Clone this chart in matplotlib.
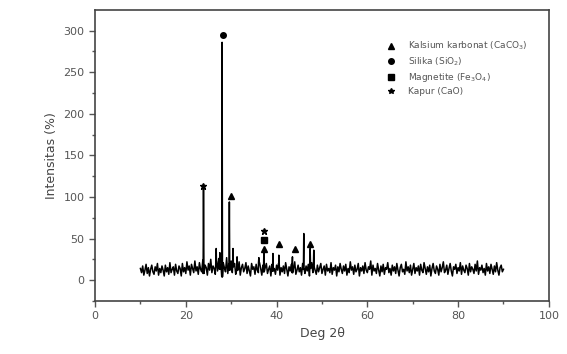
import numpy as np
import matplotlib.pyplot as plt
from matplotlib.lines import Line2D

# baseline intensitas, tiap 0.25 derajat dari 10 sampai 90
latar = [
    14, 9, 17, 6, 12, 19, 8, 15, 5, 13, 18, 10, 7, 16, 11, 20, 6, 14, 9, 17,
    12, 5, 18, 10, 15, 7, 21, 9, 13, 16, 6, 19, 11, 8, 17, 14, 5, 20, 10, 15,
    8, 22, 12, 17, 6, 19, 14, 9, 23, 11, 16, 7, 21, 13, 10, 24, 8, 18, 15, 6,
    20, 12, 25, 9, 17, 14, 7, 22, 11, 26, 13, 18, 4, 21, 15, 10, 27, 8, 19, 12,
    23, 9, 16, 20, 7, 18, 12, 22, 6, 15, 19, 10, 14, 21, 8, 17, 11, 5, 20, 13,
    16, 7, 19, 12, 9, 21, 14, 6, 18, 10, 15, 20, 8, 13, 17, 5, 19, 11, 14, 7,
    18, 12, 20, 6, 15, 10, 17, 8, 21, 13, 5, 16, 11, 19, 9, 14, 22, 7, 12, 18,
    10, 15, 6, 20, 13, 8, 17, 11, 19, 5, 14, 21, 9, 16, 12, 7, 18, 10, 15, 20,
    8, 13, 17, 6, 19, 11, 14, 9, 21, 7, 15, 12, 18, 5, 16, 10, 20, 13, 8, 17,
    11, 19, 6, 14, 9, 22, 12, 16, 7, 18, 10, 13, 20, 5, 15, 11, 17, 8, 21, 12,
    9, 16, 13, 23, 6, 18, 11, 14, 8, 20, 12, 5, 17, 10, 19, 7, 15, 13, 21, 9,
    14, 6, 18, 11, 16, 8, 20, 12, 5, 15, 19, 10, 13, 7, 22, 11, 16, 9, 18, 6,
    13, 20, 8, 15, 11, 17, 6, 19, 12, 9, 21, 14, 7, 16, 10, 18, 5, 14, 20, 11,
    8, 17, 13, 6, 19, 10, 15, 22, 9, 12, 18, 7, 14, 20, 11, 5, 16, 13, 19, 8,
    15, 11, 21, 7, 17, 12, 9, 18, 14, 6, 20, 10, 16, 13, 8, 19, 11, 23, 7, 15,
    12, 18, 9, 14, 6, 20, 11, 16, 8, 19, 13, 7, 17, 10, 21, 12, 6, 15, 18, 10,
    13,
]
sudut_latar = np.linspace(10, 90, len(latar))

# puncak
pos_puncak = [23.9, 26.7, 27.5, 28.0, 29.6, 30.4, 31.3, 36.1, 37.2, 39.2, 40.5, 43.5, 46.0, 47.4, 48.2]
tinggi_puncak = [110, 38, 33, 286, 94, 38, 28, 27, 34, 32, 30, 28, 56, 38, 36]

# penanda fasa
kalsit_x = [29.9, 37.2, 40.6, 44.1, 47.4]
kalsit_y = [101, 37, 43, 37, 43]
silika_x = [28.1]
silika_y = [295]
magnetit_x = [37.2]
magnetit_y = [48]
kapur_x = [23.8, 37.2]
kapur_y = [113, 59]

# gabung baseline dengan puncak
x = list(sudut_latar)
y = list(latar)
for p, h in zip(pos_puncak, tinggi_puncak):
    i = int(np.searchsorted(sudut_latar, p))
    b = latar[min(i, len(latar) - 1)]
    x += [p - 0.08, p, p + 0.08]
    y += [b, h, b]
urut = np.argsort(x)
x = np.array(x)[urut]
y = np.array(y)[urut]

abu = '#555555'
fig = plt.figure(figsize=(5.67, 3.54), dpi=100)
ax = fig.add_axes([0.1676, 0.150, 0.8004, 0.822])
ax.plot(x, y, color='black', lw=1.1)

ax.plot(kalsit_x, kalsit_y, '^', color='black', ms=4)
ax.plot(silika_x, silika_y, 'o', color='black', ms=4)
ax.plot(magnetit_x, magnetit_y, 's', color='black', ms=4)
ax.plot(kapur_x, kapur_y, '*', color='black', ms=5)

ax.set_xlim(0, 100)
ax.set_ylim(-25, 325)
ax.set_xticks([0, 20, 40, 60, 80, 100])
ax.set_xticks(range(10, 100, 20), minor=True)
ax.set_yticks([0, 50, 100, 150, 200, 250, 300])
ax.set_yticks(range(-25, 325, 50), minor=True)
ax.tick_params(direction='out', length=4, width=1, colors=abu, labelsize=8, top=False, right=False)
ax.tick_params(which='minor', direction='out', length=2, width=1, colors=abu)
for s in ax.spines.values():
    s.set_color('#444444')
    s.set_linewidth(1.2)

ax.set_xlabel('Deg 2θ', fontsize=9, color='#444444')
ax.set_ylabel('Intensitas (%)', fontsize=9, color='#444444')

label = ['Kalsium karbonat (CaCO$_3$)', 'Silika (SiO$_2$)', 'Magnetite (Fe$_3$O$_4$)', 'Kapur (CaO)']
tanda = ['^', 'o', 's', '*']
handles = [Line2D([], [], ls='none', marker=m, color='black', ms=4) for m in tanda]
leg = ax.legend(handles, label, loc='upper left', bbox_to_anchor=(0.615, 0.925), frameon=False,
                fontsize=6.5, handletextpad=0.9, labelspacing=0.35)
for t in leg.get_texts():
    t.set_color(abu)

fig.savefig('out.png', dpi=100)
